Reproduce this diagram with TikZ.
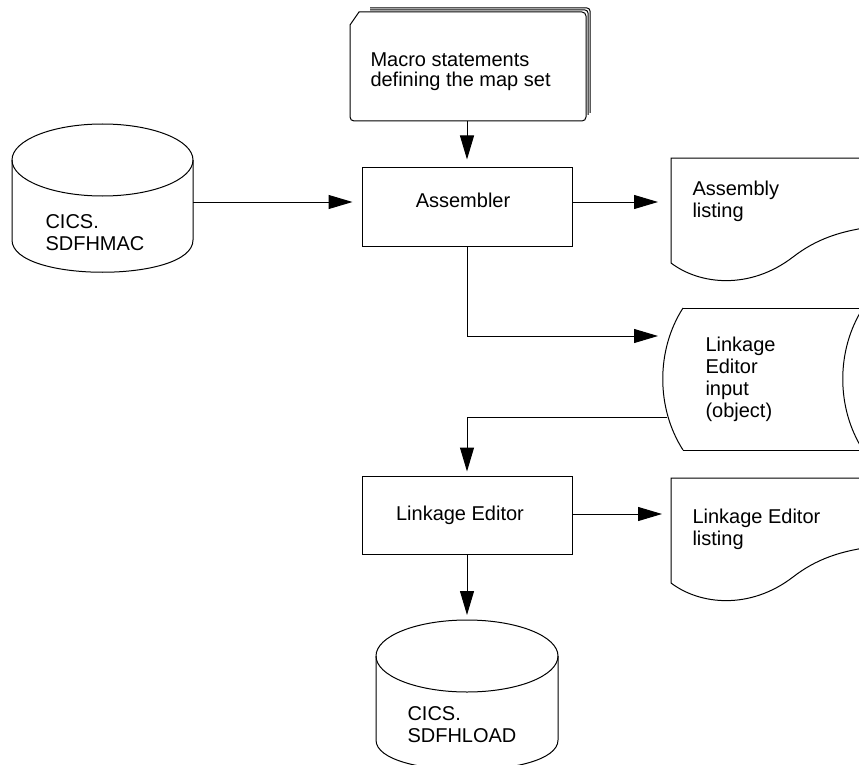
\documentclass[tikz,border=0pt]{standalone}
\usepackage{fontspec}
\setmainfont{Liberation Sans}
\usetikzlibrary{arrows.meta}

\tikzset{
  pfeil/.style={-{Triangle[length=24pt,width=14pt]}},
  kasten/.style={draw, minimum width=210pt, minimum height=79pt},
  schrift/.style={font=\fontsize{20}{22}\selectfont, align=left, inner sep=0pt}
}

\begin{document}
\begin{tikzpicture}[x=1pt,y=-1pt,line width=1pt]
  \useasboundingbox (0,0) rectangle (859,765);
  \clip (0,0) rectangle (859,765);

  % Makrokarten
  \foreach \d in {4,2}
    \draw[rounded corners=3pt] (370,12-\d) -- (586+\d,12-\d) -- (586+\d,117-\d);
  \draw[fill=white] (350,25) -- (359,12) [rounded corners=4pt] -- (586,12) -- (586,121) -- (350,121) -- (350,25);
  \node[schrift, anchor=west, font=\fontsize{20}{20}\selectfont] at (370,72) {Macro statements\\defining the map set};
  \coordinate (makro) at (467,121);

  % Platte CICS.SDFHMAC
  \draw (102.5,160) ellipse [x radius=90.5, y radius=36];
  \draw (12,160) -- (12,240) .. controls (12,283) and (193,283) .. (193,240) -- (193,160);
  \node[schrift, anchor=west] at (45,233) {CICS.\\SDFHMAC};
  \coordinate (mac) at (193,202);

  % Assembler
  \node[kasten] (asm) at (467,206.5) {};
  \node[schrift] at (463,200) {Assembler};

  % Assembly listing
  \draw (880,158) -- (671,158) -- (671,263) .. controls (700,285) and (750,290) .. (793,257)
        .. controls (815,240) and (840,230) .. (880,226);
  \node[schrift, anchor=west] at (692,201) {Assembly\\listing};
  \coordinate (asmlist) at (671,202);

  % Band: Linkage Editor input
  \draw (683,308) .. controls (656,350) and (656,408) .. (683,450);
  \draw (863,308) .. controls (836,350) and (836,408) .. (863,450);
  \draw (683,308) -- (880,308);
  \draw (683,450) -- (880,450);
  \node[schrift, anchor=west] at (705,379) {Linkage\\Editor\\input\\(object)};
  \coordinate (lkein) at (670,336);
  \coordinate (lkaus) at (667,417);

  % Linkage Editor
  \node[kasten, minimum height=78pt] (lked) at (467,515) {};
  \node[schrift] at (460,515) {Linkage Editor};

  % Linkage Editor listing
  \draw (880,478) -- (671,478) -- (671,583) .. controls (700,605) and (750,610) .. (793,577)
        .. controls (815,560) and (840,550) .. (880,546);
  \node[schrift, anchor=west] at (692,529) {Linkage Editor\\listing};
  \coordinate (lklist) at (671,514);

  % Platte CICS.SDFHLOAD
  \draw (467,656) ellipse [x radius=91, y radius=36];
  \draw (376,656) -- (376,740) .. controls (376,780) and (558,780) .. (558,740) -- (558,656);
  \node[schrift, anchor=west] at (407,725) {CICS.\\SDFHLOAD};
  \coordinate (load) at (467,620);

  % Pfeile
  \draw[pfeil, shorten >=7pt] (makro) -- (asm);
  \draw[pfeil, shorten >=9pt] (mac) -- (mac -| asm.west);
  \draw[pfeil, shorten >=13pt] (asm.east |- asmlist) -- (asmlist);
  \draw[pfeil, shorten >=12pt] (asm.south) |- (lkein);
  \draw[pfeil, shorten >=4pt] (lkaus) -| (lked.north);
  \draw[pfeil, shorten >=9pt] (lked.east |- lklist) -- (lklist);
  \draw[pfeil, shorten >=5pt] (lked.south) -- (load);
\end{tikzpicture}
\end{document}
